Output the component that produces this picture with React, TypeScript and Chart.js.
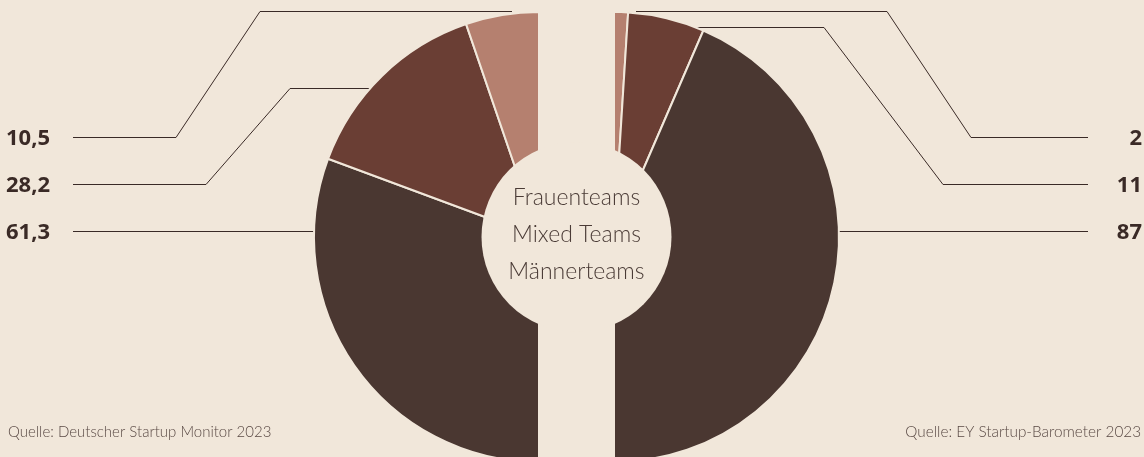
import React, { useEffect, useRef } from "react";
import { Chart, registerables } from "chart.js";

Chart.register(...registerables);

// ---- data ----
const categories = ["Frauenteams", "Mixed Teams", "Männerteams"];
const dsmValues = [10.5, 28.2, 61.3]; // Deutscher Startup Monitor 2023
const eyValues = [2, 11, 87]; // EY Startup-Barometer 2023
const dsmLabels = ["10,5", "28,2", "61,3"];
const eyLabels = ["2", "11", "87"];
const sources = ["Quelle: Deutscher Startup Monitor 2023", "Quelle: EY Startup-Barometer 2023"];

// ---- styles ----
const BG = "#f1e7da";
const COLORS = ["#b5806f", "#6a3e34", "#4a3731"];
const INK = "#3a2a26";
const W = 1144;
const H = 500;

// label rows (y of leader lines) and elbow geometry for leader lines
const rowY = [137.5, 184.5, 231.5];
const leftPaths: number[][][] = [
  [[73, 137.5], [176, 137.5], [260, 11.5], [512, 11.5]],
  [[73, 184.5], [206, 184.5], [290, 88.5], [372, 88.5]],
  [[73, 231.5], [318, 231.5]],
];
const rightPaths: number[][][] = [
  [[1088, 137.5], [971, 137.5], [887, 11.5], [636, 11.5]],
  [[1088, 184.5], [943, 184.5], [824, 27.5], [694, 27.5]],
  [[1088, 231.5], [835, 231.5]],
];

function drawPaths(ctx: CanvasRenderingContext2D, paths: number[][][]) {
  ctx.save();
  ctx.strokeStyle = INK;
  ctx.lineWidth = 1;
  for (const p of paths) {
    ctx.beginPath();
    ctx.moveTo(p[0][0], p[0][1]);
    for (let i = 1; i < p.length; i++) ctx.lineTo(p[i][0], p[i][1]);
    ctx.stroke();
  }
  ctx.restore();
}

function makePlugin(side: "left" | "right") {
  return {
    id: "annot-" + side,
    beforeDatasetsDraw(chart: any) {
      drawPaths(chart.ctx, side === "left" ? leftPaths : rightPaths);
    },
    afterDraw(chart: any) {
      const ctx: CanvasRenderingContext2D = chart.ctx;
      ctx.save();
      // value labels
      ctx.fillStyle = INK;
      ctx.font = "bold 22px 'Noto Sans', 'Open Sans', sans-serif";
      ctx.textBaseline = "alphabetic";
      const labels = side === "left" ? dsmLabels : eyLabels;
      labels.forEach((t, i) => {
        if (side === "left") {
          ctx.textAlign = "left";
          ctx.fillText(t, 6, rowY[i] + 7);
        } else {
          ctx.textAlign = "right";
          ctx.fillText(t, 1142, rowY[i] + 7);
        }
      });
      // source
      ctx.fillStyle = "#5a4a45";
      ctx.font = "300 15px Lato, sans-serif";
      if (side === "left") {
        ctx.textAlign = "left";
        ctx.fillText(sources[0], 8, 437);
      } else {
        ctx.textAlign = "right";
        ctx.font = "300 15.3px Lato, sans-serif";
        ctx.fillText(sources[1], 1141, 437);
        // centre hole + category names
        ctx.fillStyle = BG;
        ctx.beginPath();
        ctx.arc(576.5, 237, 95, 0, Math.PI * 2);
        ctx.fill();
        ctx.fillStyle = "#4a3b36";
        ctx.font = "300 23px Lato, sans-serif";
        ctx.textAlign = "center";
        categories.forEach((c, i) => {
          ctx.fillText(c, 576.5, 205 + i * 37);
        });
      }
      ctx.restore();
    },
  };
}

export default function App() {
  const leftRef = useRef<HTMLCanvasElement>(null);
  const rightRef = useRef<HTMLCanvasElement>(null);

  useEffect(() => {
    const common = (padL: number, padR: number) => ({
      responsive: false,
      animation: false as const,
      events: [] as any[],
      circumference: 180,
      cutout: 0,
      layout: { padding: { left: padL, right: padR, top: 11, bottom: 37 } },
      plugins: { legend: { display: false }, tooltip: { enabled: false } },
    });

    const left = new Chart(leftRef.current!, {
      type: "doughnut",
      data: {
        labels: [...categories].reverse(),
        datasets: [
          {
            data: [...dsmValues].reverse(),
            backgroundColor: [...COLORS].reverse(),
            borderColor: BG,
            borderWidth: 2,
          },
        ],
      },
      options: { ...common(0, 291), rotation: 180 } as any,
      plugins: [makePlugin("left")],
    });

    const right = new Chart(rightRef.current!, {
      type: "doughnut",
      data: {
        labels: categories,
        datasets: [
          {
            data: eyValues,
            backgroundColor: COLORS,
            borderColor: BG,
            borderWidth: 2,
          },
        ],
      },
      options: { ...common(309, 0), rotation: 0 } as any,
      plugins: [makePlugin("right")],
    });

    return () => {
      left.destroy();
      right.destroy();
    };
  }, []);

  return (
    <div
      style={{
        position: "fixed",
        left: 0,
        top: 0,
        width: W,
        height: 457,
        overflow: "hidden",
        background: BG,
      }}
    >
      <canvas
        ref={leftRef}
        width={W}
        height={H}
        style={{ position: "absolute", left: 0, top: 0, width: W, height: H }}
      />
      <canvas
        ref={rightRef}
        width={W}
        height={H}
        style={{ position: "absolute", left: 0, top: 0, width: W, height: H }}
      />
    </div>
  );
}
